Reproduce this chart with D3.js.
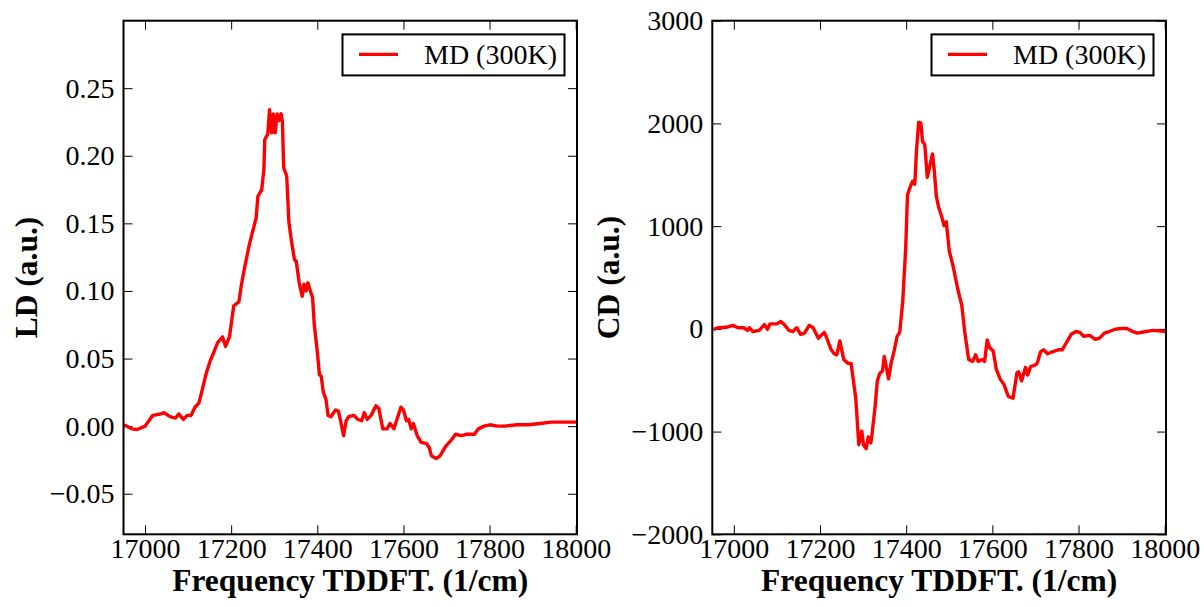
<!DOCTYPE html>
<html>
<head>
<meta charset="utf-8">
<script src="https://cdn.jsdelivr.net/npm/d3@7"></script>
<style>
  body { margin: 0; background: #fff; }
  svg text { font-family: "Liberation Serif", "DejaVu Serif", serif; fill: #000; }
</style>
</head>
<body>
<div id="chart"></div>
<script>
// Frequency axis ticks (shared by both panels)
const freqTicks = [17000, 17200, 17400, 17600, 17800, 18000];
const ldTicks = [-0.05, 0.00, 0.05, 0.10, 0.15, 0.20, 0.25];
const cdTicks = [-2000, -1000, 0, 1000, 2000, 3000];
const legendLabel = "MD (300K)";

// LD spectrum [frequency, value]
const ldSeries = [
  [16951, 0.001], [16969, -0.002], [16982, -0.0025], [17000, 0], [17018, 0.008],
  [17036, 0.009], [17044, 0.010], [17058, 0.007], [17071, 0.006], [17078, 0.009],
  [17089, 0.005], [17098, 0.008], [17107, 0.008], [17116, 0.014], [17125, 0.017],
  [17133, 0.027], [17142, 0.039], [17151, 0.048], [17160, 0.055], [17169, 0.062],
  [17180, 0.066], [17187, 0.059], [17196, 0.066], [17206, 0.089], [17218, 0.092],
  [17224, 0.105], [17231, 0.117], [17242, 0.134], [17249, 0.143], [17258, 0.154],
  [17262, 0.170], [17271, 0.175], [17276, 0.190], [17278, 0.212], [17285, 0.216],
  [17289, 0.234], [17294, 0.217], [17298, 0.231], [17302, 0.217], [17307, 0.231],
  [17311, 0.226], [17316, 0.231], [17319, 0.225], [17322, 0.191], [17329, 0.185],
  [17334, 0.151], [17340, 0.137], [17347, 0.123], [17351, 0.122], [17358, 0.106],
  [17365, 0.096], [17369, 0.105], [17374, 0.100], [17378, 0.106], [17384, 0.100],
  [17389, 0.095], [17393, 0.075], [17400, 0.055], [17405, 0.038], [17409, 0.037],
  [17414, 0.025], [17420, 0.020], [17425, 0.008], [17432, 0.007], [17438, 0.010],
  [17443, 0.012], [17449, 0.011], [17454, 0.004], [17461, -0.007], [17467, 0.004],
  [17473, 0.007], [17485, 0.008], [17494, 0.005], [17503, 0.004], [17509, 0.010],
  [17516, 0.005], [17525, 0.008], [17536, 0.015], [17543, 0.013], [17552, -0.002],
  [17562, -0.002], [17569, 0.002], [17578, -0.002], [17587, 0.007], [17594, 0.014],
  [17600, 0.012], [17607, 0.004], [17612, 0.005], [17618, -0.002], [17623, 0.002],
  [17632, -0.007], [17641, -0.012], [17654, -0.013], [17660, -0.016], [17665, -0.022],
  [17676, -0.024], [17685, -0.022], [17698, -0.015], [17712, -0.010], [17721, -0.006],
  [17734, -0.007], [17747, -0.006], [17765, -0.006], [17774, -0.002], [17787, 0],
  [17801, 0.001], [17818, 0], [17836, 0], [17863, 0.001], [17890, 0.001],
  [17917, 0.002], [17943, 0.003], [17970, 0.003], [18003, 0.003]
];

// CD spectrum [frequency, value]
const cdSeries = [
  [16953, -4], [16964, 11], [16982, 15], [16998, 34], [17009, 11], [17023, 11],
  [17032, -15], [17036, 11], [17044, -26], [17059, -15], [17071, 42], [17078, -4],
  [17084, 49], [17100, 49], [17109, 72], [17117, 42], [17128, -15], [17137, -26],
  [17146, 11], [17155, -53], [17164, -42], [17175, 34], [17184, 11], [17196, -91],
  [17210, -34], [17214, -72], [17226, -204], [17233, -242], [17239, -253], [17246, -117],
  [17255, -298], [17265, -336], [17272, -336], [17283, -676], [17290, -1128], [17297, -996],
  [17301, -1128], [17307, -1166], [17312, -1053], [17318, -1110], [17321, -1015], [17328, -751],
  [17333, -506], [17339, -430], [17345, -411], [17349, -268], [17354, -374], [17359, -487],
  [17365, -336], [17372, -215], [17379, -72], [17385, -34], [17392, 268], [17399, 796],
  [17403, 1306], [17411, 1400], [17415, 1438], [17420, 1408], [17424, 1740], [17429, 2012],
  [17434, 2004], [17438, 1823], [17443, 1796], [17449, 1476], [17455, 1589], [17461, 1702],
  [17465, 1551], [17470, 1287], [17476, 1174], [17482, 1098], [17488, 1004], [17493, 1042],
  [17500, 759], [17509, 608], [17520, 381], [17529, 230], [17536, -34], [17545, -298],
  [17554, -317], [17561, -253], [17567, -317], [17577, -298], [17582, -317], [17588, -109],
  [17594, -185], [17602, -215], [17609, -392], [17618, -487], [17627, -543], [17637, -657],
  [17648, -676], [17657, -430], [17661, -419], [17668, -506], [17677, -374], [17682, -449],
  [17689, -366], [17698, -355], [17704, -336], [17712, -223], [17719, -204], [17728, -242],
  [17739, -223], [17753, -204], [17762, -204], [17771, -140], [17783, -53], [17794, -26],
  [17803, -34], [17812, -72], [17826, -64], [17839, -102], [17849, -91], [17860, -42],
  [17871, -26], [17885, -4], [17899, 4], [17912, 4], [17926, -26], [17937, -42],
  [17956, -26], [17974, -15], [18003, -26]
];

const svg = d3.select("#chart")
  .append("svg")
  .attr("width", 1204)
  .attr("height", 607);

const minus = s => s.replace("-", "\u2212");

function drawPanel(opts) {
  const { left, top, width, height, yDomain, yTicks, yFormat, yLabel, series, id } = opts;

  const g = svg.append("g").attr("transform", `translate(${left},${top})`);

  const x = d3.scaleLinear().domain([16950, 18003]).range([0, width]);
  const y = d3.scaleLinear().domain(yDomain).range([height, 0]);

  // clip for the curve
  g.append("clipPath").attr("id", id)
    .append("rect").attr("width", width).attr("height", height);

  // ticks on all four sides, pointing inward
  const tickLen = 9;
  const fmtX = d3.format("d");

  const xb = g.append("g").attr("transform", `translate(0,${height})`)
    .call(d3.axisBottom(x).tickValues(freqTicks).tickSizeInner(-tickLen).tickSizeOuter(0).tickPadding(4).tickFormat(fmtX));
  g.append("g")
    .call(d3.axisTop(x).tickValues(freqTicks).tickSizeInner(-tickLen).tickSizeOuter(0).tickFormat(""));
  g.append("g")
    .call(d3.axisLeft(y).tickValues(yTicks).tickSizeInner(-tickLen).tickSizeOuter(0).tickPadding(9)
      .tickFormat(d => minus(yFormat(d))));
  g.append("g").attr("transform", `translate(${width},0)`)
    .call(d3.axisRight(y).tickValues(yTicks).tickSizeInner(-tickLen).tickSizeOuter(0).tickFormat(""));

  g.selectAll(".domain").remove();
  g.selectAll(".tick line").attr("stroke", "#000").attr("stroke-width", 1);
  g.selectAll(".tick text")
    .style("font-family", "'Liberation Serif', serif")
    .style("font-size", "28px");
  xb.selectAll(".tick text").attr("dy", "0.71em");

  // curve
  const line = d3.line().x(d => x(d[0])).y(d => y(d[1]));
  g.append("path")
    .datum(series)
    .attr("clip-path", `url(#${id})`)
    .attr("fill", "none")
    .attr("stroke", "#ff0000")
    .attr("stroke-width", 3.4)
    .attr("stroke-linejoin", "round")
    .attr("d", line);

  // frame
  g.append("rect")
    .attr("width", width).attr("height", height)
    .attr("fill", "none").attr("stroke", "#000").attr("stroke-width", 2);

  // legend
  const lg = g.append("g").attr("transform", `translate(${width - 12.5 - 222},${13.7})`);
  lg.append("rect").attr("width", 222).attr("height", 41)
    .attr("fill", "#fff").attr("stroke", "#000").attr("stroke-width", 2);
  lg.append("line").attr("x1", 16.5).attr("x2", 55.5).attr("y1", 20).attr("y2", 20)
    .attr("stroke", "#ff0000").attr("stroke-width", 3.4);
  lg.append("text").attr("x", 81.5).attr("y", 30)
    .style("font-size", "28px").text(legendLabel);

  // axis labels
  g.append("text")
    .attr("x", width / 2).attr("y", 591 - top)
    .attr("text-anchor", "middle")
    .style("font-size", "31.5px").style("font-weight", "bold")
    .text("Frequency TDDFT. (1/cm)");

  g.append("text")
    .attr("transform", `translate(${opts.yLabelX},${height / 2}) rotate(-90)`)
    .attr("text-anchor", "middle")
    .style("font-size", "31.5px").style("font-weight", "bold")
    .text(yLabel);
}

drawPanel({
  id: "clipLD",
  left: 123.5, top: 20.7, width: 453.5, height: 513.6,
  yDomain: [-0.08, 0.2999], yTicks: ldTicks, yFormat: d3.format(".2f"),
  yLabel: "LD (a.u.)", yLabelX: 37 - 123.5, series: ldSeries
});

drawPanel({
  id: "clipCD",
  left: 712.3, top: 20.7, width: 453.7, height: 513.6,
  yDomain: [-2000, 3000], yTicks: cdTicks, yFormat: d3.format("d"),
  yLabel: "CD (a.u.)", yLabelX: 619 - 712.3, series: cdSeries
});
</script>
</body>
</html>
